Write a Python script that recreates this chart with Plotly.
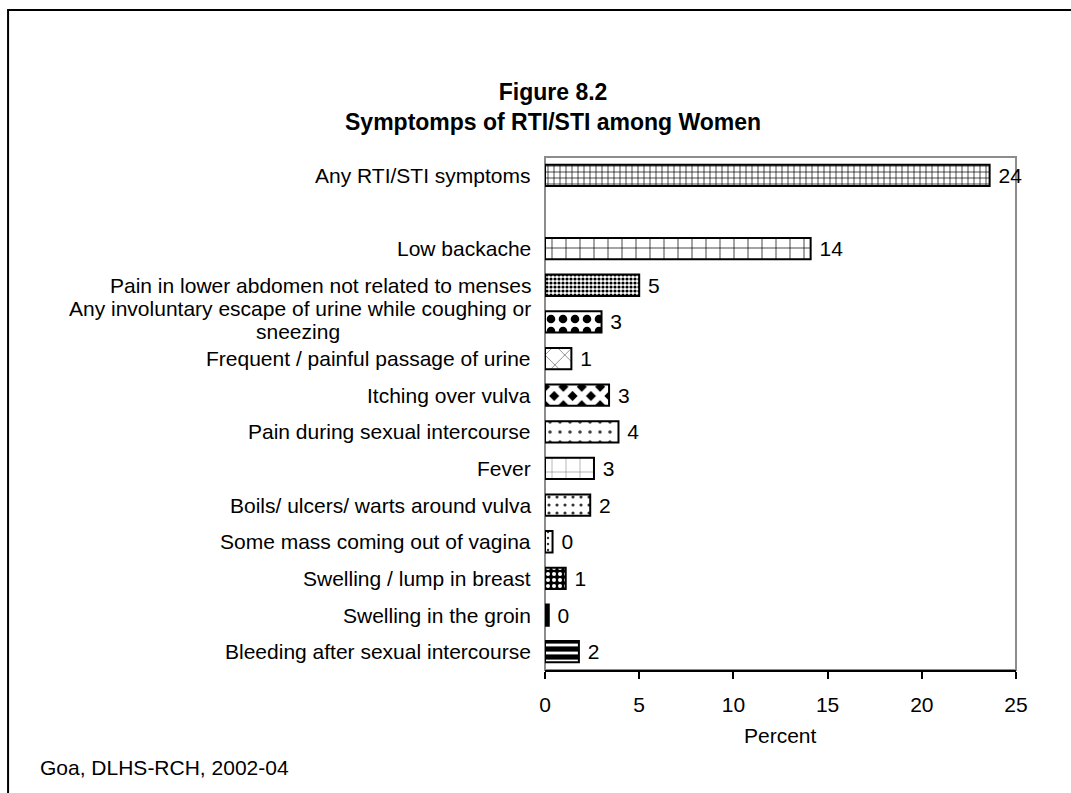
import plotly.graph_objects as go

# Symptoms (top to bottom); the empty entry is the spacer row under the total
categories = [
    "Any RTI/STI symptoms",
    "",
    "Low backache",
    "Pain in lower abdomen not related to menses",
    "Any involuntary escape of urine while coughing or<br>sneezing",
    "Frequent / painful passage of urine",
    "Itching over vulva",
    "Pain during sexual intercourse",
    "Fever",
    "Boils/ ulcers/ warts around vulva",
    "Some mass coming out of vagina",
    "Swelling / lump in breast",
    "Swelling in the groin",
    "Bleeding after sexual intercourse",
]
percent = [23.6, None, 14.1, 5.0, 3.0, 1.4, 3.4, 3.9, 2.6, 2.4, 0.4, 1.1, 0.2, 1.8]

x_ticks = [0, 5, 10, 15, 20, 25]

# Fill pattern per row: (shape, size, solidity, foreground, background)
patterns = [
    ("+", 6, 0.22, "black", "white"),
    None,
    ("+", 14, 0.1, "black", "white"),
    (".", 4, 0.5, "black", "white"),
    (".", 12, 0.4, "black", "white"),
    ("x", 14, 0.08, "#444", "white"),
    ("x", 13, 0.7, "white", "black"),
    (".", 10, 0.1, "#444", "white"),
    ("+", 14, 0.06, "#555", "white"),
    (".", 8, 0.12, "#333", "white"),
    (".", 6, 0.12, "#333", "white"),
    (".", 6, 0.35, "white", "black"),
    ("", 8, 0.2, "black", "black"),
    ("-", 8, 0.65, "black", "white"),
]

FONT = "Liberation Sans, Arial, sans-serif"
LABEL_FONT = dict(family=FONT, size=21, color="black")

fig = go.Figure()
for i, (name, val) in enumerate(zip(categories, percent)):
    if val is None:
        continue
    shape, size, solid, fg, bg = patterns[i]
    fig.add_trace(
        go.Bar(
            x=[val],
            y=[i],
            orientation="h",
            width=0.58,
            marker=dict(
                color=bg,
                line=dict(color="black", width=2),
                pattern=dict(shape=shape, size=size, solidity=solid,
                             fgcolor=fg, bgcolor=bg, fillmode="replace"),
            ),
            texttemplate="\u00a0%{x:.0f}",
            textposition="outside",
            textfont=LABEL_FONT,
            constraintext="none",
            cliponaxis=False,
            showlegend=False,
        )
    )

# Category labels, right-aligned against the axis; a wrapped label is set
# line by line with tighter leading, its second line centred under the first
for i, name in enumerate(categories):
    if not name:
        continue
    if "<br>" in name:
        first, second = name.split("<br>")
        fig.add_annotation(
            x=0, xref="paper", y=i, yref="y", text=first, showarrow=False,
            xanchor="right", yanchor="middle", xshift=-12, yshift=13,
            font=LABEL_FONT,
        )
        fig.add_annotation(
            x=-0.524, xref="paper", y=i, yref="y", text=second, showarrow=False,
            xanchor="center", yanchor="middle", yshift=-10,
            font=LABEL_FONT,
        )
    else:
        fig.add_annotation(
            x=0, xref="paper", y=i, yref="y", text=name, showarrow=False,
            xanchor="right", yanchor="middle", xshift=-12,
            font=LABEL_FONT,
        )

# Title
fig.add_annotation(
    x=0.017, xref="paper", y=1.0975, yref="paper",
    text="<b>Figure 8.2<br>Symptomps of RTI/STI among Women</b>",
    showarrow=False, xanchor="center", yanchor="middle", align="center",
    font=dict(family=FONT, size=23, color="black"),
)
# Axis title
fig.add_annotation(
    x=0.5, xref="paper", y=-0.127, yref="paper",
    text="Percent", showarrow=False, xanchor="center", yanchor="middle",
    font=LABEL_FONT,
)
# Source note
fig.add_annotation(
    x=-1.0764, xref="paper", y=-0.191, yref="paper",
    text="Goa, DLHS-RCH, 2002-04", showarrow=False, xanchor="left", yanchor="middle",
    font=LABEL_FONT,
)

# Plot-area border (grey) and outer chart frame
fig.add_shape(type="rect", xref="paper", yref="paper", x0=0, x1=1, y0=0, y1=1,
              line=dict(color="#8c8c8c", width=2), layer="below")
fig.add_shape(type="rect", xref="paper", yref="paper", x0=-1.14, x1=1.2, y0=-0.35, y1=1.2865,
              line=dict(color="black", width=2), layer="below")

fig.update_xaxes(
    range=[0, 25], tickvals=x_ticks, ticks="outside", ticklen=7, tickwidth=2,
    tickcolor="black", showline=True, linecolor="black", linewidth=2,
    showgrid=False, zeroline=False, ticklabelstandoff=8,
    tickfont=LABEL_FONT,
)
fig.update_yaxes(
    range=[len(categories) - 0.5, -0.5], showticklabels=False, ticks="",
    showgrid=False, zeroline=False, showline=False,
)

fig.update_layout(
    width=1071, height=793, autosize=False,
    barmode="overlay",
    margin=dict(l=545, r=55, t=157, b=123),
    plot_bgcolor="white", paper_bgcolor="white",
    font=LABEL_FONT,
)

fig.write_html("out.html")
